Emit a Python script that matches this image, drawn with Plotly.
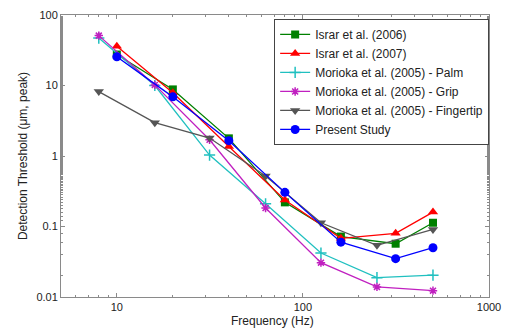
import plotly.graph_objects as go

names = ["Israr et al. (2006)", "Israr et al. (2007)", "Morioka et al. (2005) - Palm",
         "Morioka et al. (2005) - Grip", "Morioka et al. (2005) - Fingertip", "Present Study"]

israr06_f = [10, 20, 40, 80, 160, 315, 500]
israr06_v = [27.5, 8.8, 1.78, 0.22, 0.072, 0.057, 0.113]

israr07_f = [10, 20, 40, 80, 160, 315, 500]
israr07_v = [36, 7.9, 1.36, 0.238, 0.068, 0.080, 0.16]

palm_f = [8, 16, 31.5, 63, 125, 250, 500]
palm_v = [47, 10, 1.03, 0.21, 0.042, 0.0188, 0.0204]

grip_f = [8, 16, 31.5, 63, 125, 250, 500]
grip_v = [51, 10.2, 1.7, 0.183, 0.0307, 0.0139, 0.0123]

finger_f = [8, 16, 31.5, 63, 125, 250, 500]
finger_v = [8.2, 2.97, 1.8, 0.52, 0.113, 0.054, 0.091]

present_f = [10, 20, 40, 80, 160, 315, 500]
present_v = [25.6, 6.9, 1.65, 0.305, 0.060, 0.035, 0.050]

series = [
    (israr06_f, israr06_v, "#008000", "square", 8),
    (israr07_f, israr07_v, "#ff0000", "triangle-up", 9),
    (palm_f, palm_v, "#20c0c0", "cross-thin", 8),
    (grip_f, grip_v, "#c020c0", "asterisk", 7),
    (finger_f, finger_v, "#555555", "triangle-down", 9),
    (present_f, present_v, "#0000ff", "circle", 9),
]

fig = go.Figure()
for name, (f, v, c, sym, sz) in zip(names, series):
    thin = sym in ("cross-thin", "asterisk")
    fig.add_trace(go.Scatter(
        x=f, y=v, name=name, mode="lines+markers",
        line=dict(color=c, width=1.3),
        marker=dict(symbol=sym, size=sz, color=c,
                    line=dict(color=c, width=1.5 if thin else 0)),
    ))

FONT = "Liberation Sans, Arial, sans-serif"
axis_common = dict(
    type="log", showline=True, linecolor="#8a8a8a", linewidth=1, mirror="ticks",
    ticks="inside", ticklen=4, tickcolor="#8a8a8a", showgrid=False, zeroline=False,
    automargin=False,
    dtick=1, tickfont=dict(size=11, color="#222222", family=FONT),
    minor=dict(ticks="inside", ticklen=2, tickcolor="#8a8a8a", showgrid=False),
)

fig.update_layout(
    width=510, height=329,
    margin=dict(l=61, r=21, t=15, b=32),
    paper_bgcolor="white", plot_bgcolor="white",
    font=dict(family=FONT, size=12, color="#222222"),
    xaxis=dict(axis_common, range=[0.7, 3]),
    yaxis=dict(axis_common, range=[-2, 2],
               tickvals=[0.01, 0.1, 1, 10, 100], ticktext=["0.01", "0.1", "1", "10", "100"],
               title=dict(text="Detection Threshold (μm, peak)", standoff=6, font=dict(size=12))),
    legend=dict(x=0.498, y=0.986, xanchor="left", yanchor="top",
                bgcolor="white", bordercolor="#444444", borderwidth=1,
                itemwidth=30,
                font=dict(size=12, color="#222222"), tracegroupgap=0),
    showlegend=True,
    annotations=[dict(text="Frequency (Hz)", xref="paper", yref="paper",
                      x=0.495, y=-0.086, xanchor="center", yanchor="middle",
                      showarrow=False, font=dict(size=12, color="#222222", family=FONT))],
)

fig.write_html("out.html")
